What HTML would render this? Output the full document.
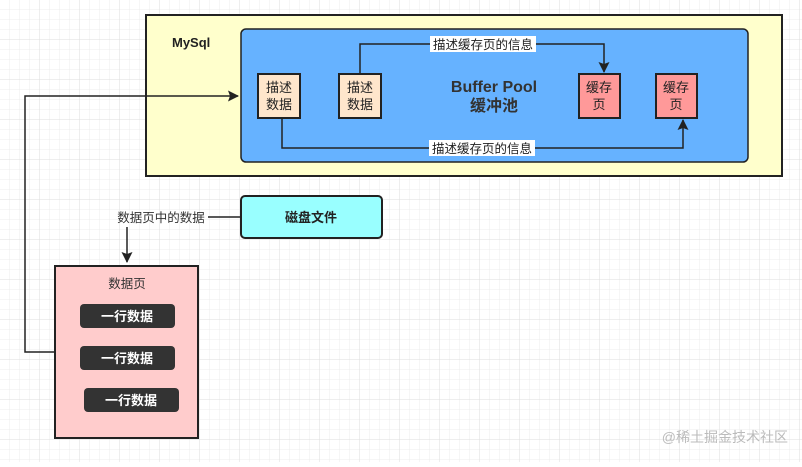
<!DOCTYPE html>
<html><head><meta charset="utf-8"><style>
body{margin:0;width:802px;height:462px;overflow:hidden;background:#fff;font-family:"Liberation Sans","Noto Sans CJK SC",sans-serif}
</style></head><body>
<svg width="802" height="462" xmlns="http://www.w3.org/2000/svg" font-family="Liberation Sans, Noto Sans CJK SC, sans-serif">
<defs>
<pattern id="g" width="10" height="10" patternUnits="userSpaceOnUse"><path d="M10 0V10H0" fill="none" stroke="#ececec" stroke-width="1"/></pattern>
<pattern id="G" width="40" height="40" patternUnits="userSpaceOnUse"><rect width="40" height="40" fill="url(#g)"/><path d="M40 0V40H0" fill="none" stroke="#dedede" stroke-width="1"/></pattern>
<marker id="a" markerWidth="12" markerHeight="12" refX="10" refY="6" orient="auto" markerUnits="userSpaceOnUse"><path d="M0 0.5L11 6L0 11.5L2 6Z" fill="#222"/></marker>
</defs>
<rect width="802" height="462" fill="url(#G)"/>
<rect x="146" y="15" width="636" height="161" fill="#ffffcc" stroke="#222" stroke-width="2"/>
<text x="172" y="47" font-size="13" font-weight="bold" fill="#222">MySql</text>
<rect x="241" y="29" width="507" height="133" rx="5" fill="#66b2ff" stroke="#222" stroke-width="1.5"/>
<text x="494" y="92" font-size="16" font-weight="bold" fill="#333" text-anchor="middle">Buffer Pool</text>
<text x="494" y="111" font-size="16" font-weight="bold" fill="#333" text-anchor="middle">缓冲池</text>
<g stroke="#222" stroke-width="2">
<rect x="258" y="74" width="42" height="44" fill="#ffe6cc"/>
<rect x="339" y="74" width="42" height="44" fill="#ffe6cc"/>
<rect x="579" y="74" width="41" height="44" fill="#ff9999"/>
<rect x="656" y="74" width="41" height="44" fill="#ff9999"/>
</g>
<g font-size="13" fill="#222" text-anchor="middle">
<text x="279" y="92">描述</text><text x="279" y="109">数据</text>
<text x="360" y="92">描述</text><text x="360" y="109">数据</text>
<text x="599" y="92">缓存</text><text x="599" y="109">页</text>
<text x="676" y="92">缓存</text><text x="676" y="109">页</text>
</g>
<g fill="none" stroke="#222" stroke-width="1.5">
<path d="M360 74V44H604V72" marker-end="url(#a)"/>
<path d="M282 118V148H683V120" marker-end="url(#a)"/>
<path d="M55 352H25V96H238" marker-end="url(#a)"/>
<path d="M241 217H208"/>
<path d="M127 227V262" marker-end="url(#a)"/>
</g>
<rect x="430" y="36" width="106" height="16" fill="#fff"/>
<text x="483" y="49" font-size="12.5" fill="#222" text-anchor="middle">描述缓存页的信息</text>
<rect x="429" y="140" width="106" height="16" fill="#fff"/>
<text x="482" y="153" font-size="12.5" fill="#222" text-anchor="middle">描述缓存页的信息</text>
<rect x="241" y="196" width="141" height="42" rx="4" fill="#99ffff" stroke="#222" stroke-width="2"/>
<text x="311" y="222" font-size="13" font-weight="bold" fill="#222" text-anchor="middle">磁盘文件</text>
<text x="161" y="222" font-size="12.5" fill="#333" text-anchor="middle">数据页中的数据</text>
<rect x="55" y="266" width="143" height="172" fill="#ffcccc" stroke="#222" stroke-width="2"/>
<text x="127" y="288" font-size="12.5" fill="#333" text-anchor="middle">数据页</text>
<g fill="#333"><rect x="80" y="304" width="95" height="24" rx="4"/><rect x="80" y="346" width="95" height="24" rx="4"/><rect x="84" y="388" width="95" height="24" rx="4"/></g>
<g font-size="13" fill="#fff" font-weight="bold" text-anchor="middle">
<text x="127" y="321">一行数据</text><text x="127" y="363">一行数据</text><text x="131" y="405">一行数据</text>
</g>
<text x="788" y="442" font-size="14" fill="#bbb" text-anchor="end">@稀土掘金技术社区</text>
</svg>
</body></html>
